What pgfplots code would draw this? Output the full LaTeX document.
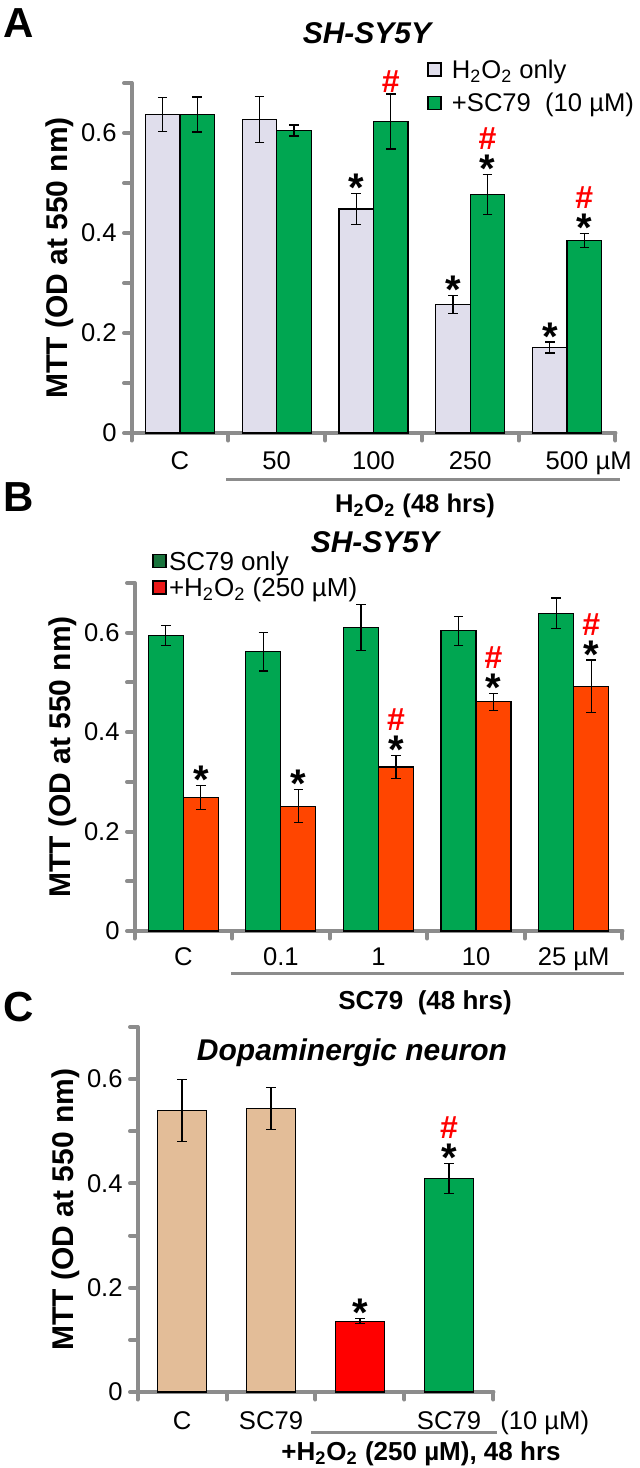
\documentclass[border=0pt]{standalone}
\usepackage{fontspec}
\setmainfont{Liberation Sans}
\usepackage{pgfplots}
\pgfplotsset{compat=1.18}

\definecolor{lav}{RGB}{224,222,236}
\definecolor{grn}{RGB}{0,166,81}
\definecolor{dgrn}{RGB}{25,115,60}
\definecolor{ored}{RGB}{255,69,0}
\definecolor{lred}{RGB}{235,25,25}
\definecolor{tanb}{RGB}{227,189,152}
\definecolor{axgray}{RGB}{140,140,140}

\newcommand\fs[1]{\fontsize{#1}{#1}\selectfont}
% significance marks: x, top of error bar, bar shift
\newcommand\st[3]{\node[font=\bfseries\fs{20},anchor=base,inner sep=0pt] at ([xshift=#3,yshift=-4pt]axis cs:#1,#2) {*};}
\newcommand\hs[3]{\node[font=\bfseries\fs{16},text=red,anchor=base,inner sep=0pt] at ([xshift=#3,yshift=12.5pt]axis cs:#1,#2) {\#};}
\newcommand\hso[3]{\node[font=\bfseries\fs{16},text=red,anchor=base,inner sep=0pt] at ([xshift=#3,yshift=0.7pt]axis cs:#1,#2) {\#};}

\pgfplotsset{
  panel/.style={
    scale only axis, anchor=south west, clip=false,
    ymin=0, ymax=0.7,
    axis x line*=bottom, axis y line*=left,
    axis line style={draw=axgray, line width=2pt, line cap=round, -},
    tick align=outside,
    major tick length=3.75pt, minor tick length=3.75pt,
    tick style={draw=axgray, line width=2pt, line cap=round},
    ytick={0,0.2,0.4,0.6}, yticklabels={0,0.2,0.4,0.6},
    minor ytick={0.1,0.3,0.5,0.7},
    tick label style={font=\fs{12.8}},
    yticklabel style={inner xsep=3.5pt},
    xticklabels={,,,,,,},
    ylabel={MTT (OD at 550 nm)},
    ylabel style={at={([xshift=-36pt]axis description cs:0,0.5)}, anchor=center, font=\bfseries\fs{15}},
    ybar=0pt,
    every axis plot/.append style={draw=black, line width=0.6pt},
    error bars/y dir=both, error bars/y explicit,
    error bars/error bar style={black, line width=0.6pt},
    error bars/error mark options={rotate=90, black, mark size=2.4pt, line width=0.6pt},
    legend image code/.code={\draw[#1, draw=black, line width=0.8pt] (0pt,1.2pt) rectangle (6.5pt,7.7pt);},
  }
}

\begin{document}
\begin{tikzpicture}
\useasboundingbox (0,0) rectangle (319.5pt,-734pt);

% ---------------- A ----------------
\begin{axis}[panel, at={(65.75pt,-216.5pt)}, width=242pt, height=175pt,
  xmin=-0.5, xmax=4.5, xtick={-0.5,0.5,...,4.5}, bar width=17.25pt,
  extra x ticks={0,1,2,3,4},
  extra x tick labels={C,50,100,250,500\rlap{\ µM}},
  extra x tick style={major tick length=0pt, tick style={draw=none},
    xticklabel style={anchor=base, yshift=-18pt}},
  legend style={at={(0.6105,1.06)}, anchor=north west, draw=none, fill=none,
    inner sep=0pt, font=\fs{12.8}, row sep=6pt, column sep=5pt,
    cells={anchor=base west}, nodes={inner sep=0pt, text height=0.75em, text depth=0.25em}}]
\addplot[fill=lav] coordinates {(0,0.637) +- (0,0.034) (1,0.627) +- (0,0.046) (2,0.448) +- (0,0.031) (3,0.257) +- (0,0.018) (4,0.171) +- (0,0.011)};
\addplot[fill=grn] coordinates {(0,0.637) +- (0,0.035) (1,0.605) +- (0,0.011) (2,0.623) +- (0,0.055) (3,0.477) +- (0,0.040) (4,0.385) +- (0,0.014)};
\legend{H\textsubscript{2}O\textsubscript{2} only, +SC79\ \ (10 µM)}
\st{2}{0.479}{-8.625pt}
\st{3}{0.275}{-8.625pt}
\st{4}{0.182}{-8.625pt}
\hso{2}{0.678}{8.625pt}
\st{3}{0.517}{8.625pt}\hs{3}{0.517}{8.625pt}
\st{4}{0.399}{8.625pt}\hs{4}{0.399}{8.625pt}
\end{axis}

% ---------------- B ----------------
\begin{axis}[panel, at={(67.25pt,-465.5pt)}, width=244pt, height=174pt,
  xmin=-0.5, xmax=4.5, xtick={-0.5,0.5,...,4.5}, bar width=17.5pt,
  extra x ticks={0,1,2,3,4},
  extra x tick labels={C,0.1,1,10,25 µM},
  extra x tick style={major tick length=0pt, tick style={draw=none},
    xticklabel style={anchor=base, yshift=-17pt}},
  legend style={at={(0.0359,1.085)}, anchor=north west, draw=none, fill=none,
    inner sep=0pt, font=\fs{13}, row sep=3pt, column sep=1pt,
    cells={anchor=base west}, nodes={inner sep=0pt, text height=0.72em, text depth=0.2em}}]
\addplot[fill=grn, forget plot, bar shift=-8.75pt] coordinates {(0,0.595) +- (0,0.020) (1,0.562) +- (0,0.039) (2,0.610) +- (0,0.046) (3,0.604) +- (0,0.029) (4,0.639) +- (0,0.031)};
\addplot[fill=ored, forget plot, bar shift=8.75pt] coordinates {(0,0.269) +- (0,0.024) (1,0.251) +- (0,0.033) (2,0.330) +- (0,0.023) (3,0.461) +- (0,0.017) (4,0.492) +- (0,0.053)};
\addlegendimage{fill=dgrn}
\addlegendentry{SC79 only}
\addlegendimage{fill=lred}
\addlegendentry{+H\textsubscript{2}O\textsubscript{2} (250 µM)}
\st{0}{0.293}{8.75pt}
\st{1}{0.284}{8.75pt}
\st{2}{0.353}{8.75pt}\hs{2}{0.353}{8.75pt}
\st{3}{0.478}{8.75pt}\hs{3}{0.478}{8.75pt}
\st{4}{0.545}{8.75pt}\hs{4}{0.545}{8.75pt}
\end{axis}

% ---------------- C ----------------
\begin{axis}[panel, at={(68.75pt,-696pt)}, width=178pt, height=182.5pt,
  xmin=-0.5, xmax=3.5, xtick={-0.5,0.5,...,3.5}, bar width=24.5pt, bar shift=0pt,
  extra x ticks={0,1,2,3},
  extra x tick labels={C,SC79,,SC79},
  extra x tick style={major tick length=0pt, tick style={draw=none},
    xticklabel style={anchor=base, yshift=-18.5pt}}]
\addplot[fill=tanb] coordinates {(0,0.540) +- (0,0.060) (1,0.544) +- (0,0.040)};
\addplot[fill=red] coordinates {(2,0.136) +- (0,0.005)};
\addplot[fill=grn] coordinates {(3,0.409) +- (0,0.029)};
\st{2}{0.141}{0pt}
\st{3}{0.438}{0pt}\hs{3}{0.438}{0pt}
\end{axis}

% panel letters and titles
\node[font=\bfseries\fs{21}, inner sep=0pt] at (9.25pt,-11.5pt) {A};
\node[font=\bfseries\fs{21}, inner sep=0pt] at (9.25pt,-248.5pt) {B};
\node[font=\bfseries\fs{21}, inner sep=0pt] at (9.5pt,-503.5pt) {C};
\node[font=\bfseries\itshape\fs{15}, inner sep=0pt] at (183.5pt,-16.5pt) {SH-SY5Y};
\node[font=\bfseries\itshape\fs{15}, inner sep=0pt] at (187.5pt,-271pt) {SH-SY5Y};
\node[font=\bfseries\itshape\fs{15}, inner sep=0pt, anchor=base] at (176pt,-530pt) {Dopaminergic neuron};

% group brackets and treatment labels
\draw[axgray, line width=1.5pt] (113pt,-239.5pt) -- (310pt,-239.5pt);
\draw[axgray, line width=1.5pt] (115.5pt,-486.75pt) -- (312pt,-486.75pt);
\draw[axgray, line width=1.5pt] (155.5pt,-716pt) -- (248.5pt,-716pt);
\node[font=\bfseries\fs{12.8}, inner sep=0pt, anchor=base] at (207.5pt,-256pt) {H\textsubscript{2}O\textsubscript{2} (48 hrs)};
\node[font=\bfseries\fs{13}, inner sep=0pt, anchor=base] at (212.5pt,-504.5pt) {SC79\ \ (48 hrs)};
\node[font=\bfseries\fs{13}, inner sep=0pt, anchor=base] at (210.5pt,-730pt) {+H\textsubscript{2}O\textsubscript{2} (250 µM), 48 hrs};
\node[font=\fs{12.8}, inner sep=0pt, anchor=base west] at (250pt,-714.5pt) {(10 µM)};
\end{tikzpicture}
\end{document}
